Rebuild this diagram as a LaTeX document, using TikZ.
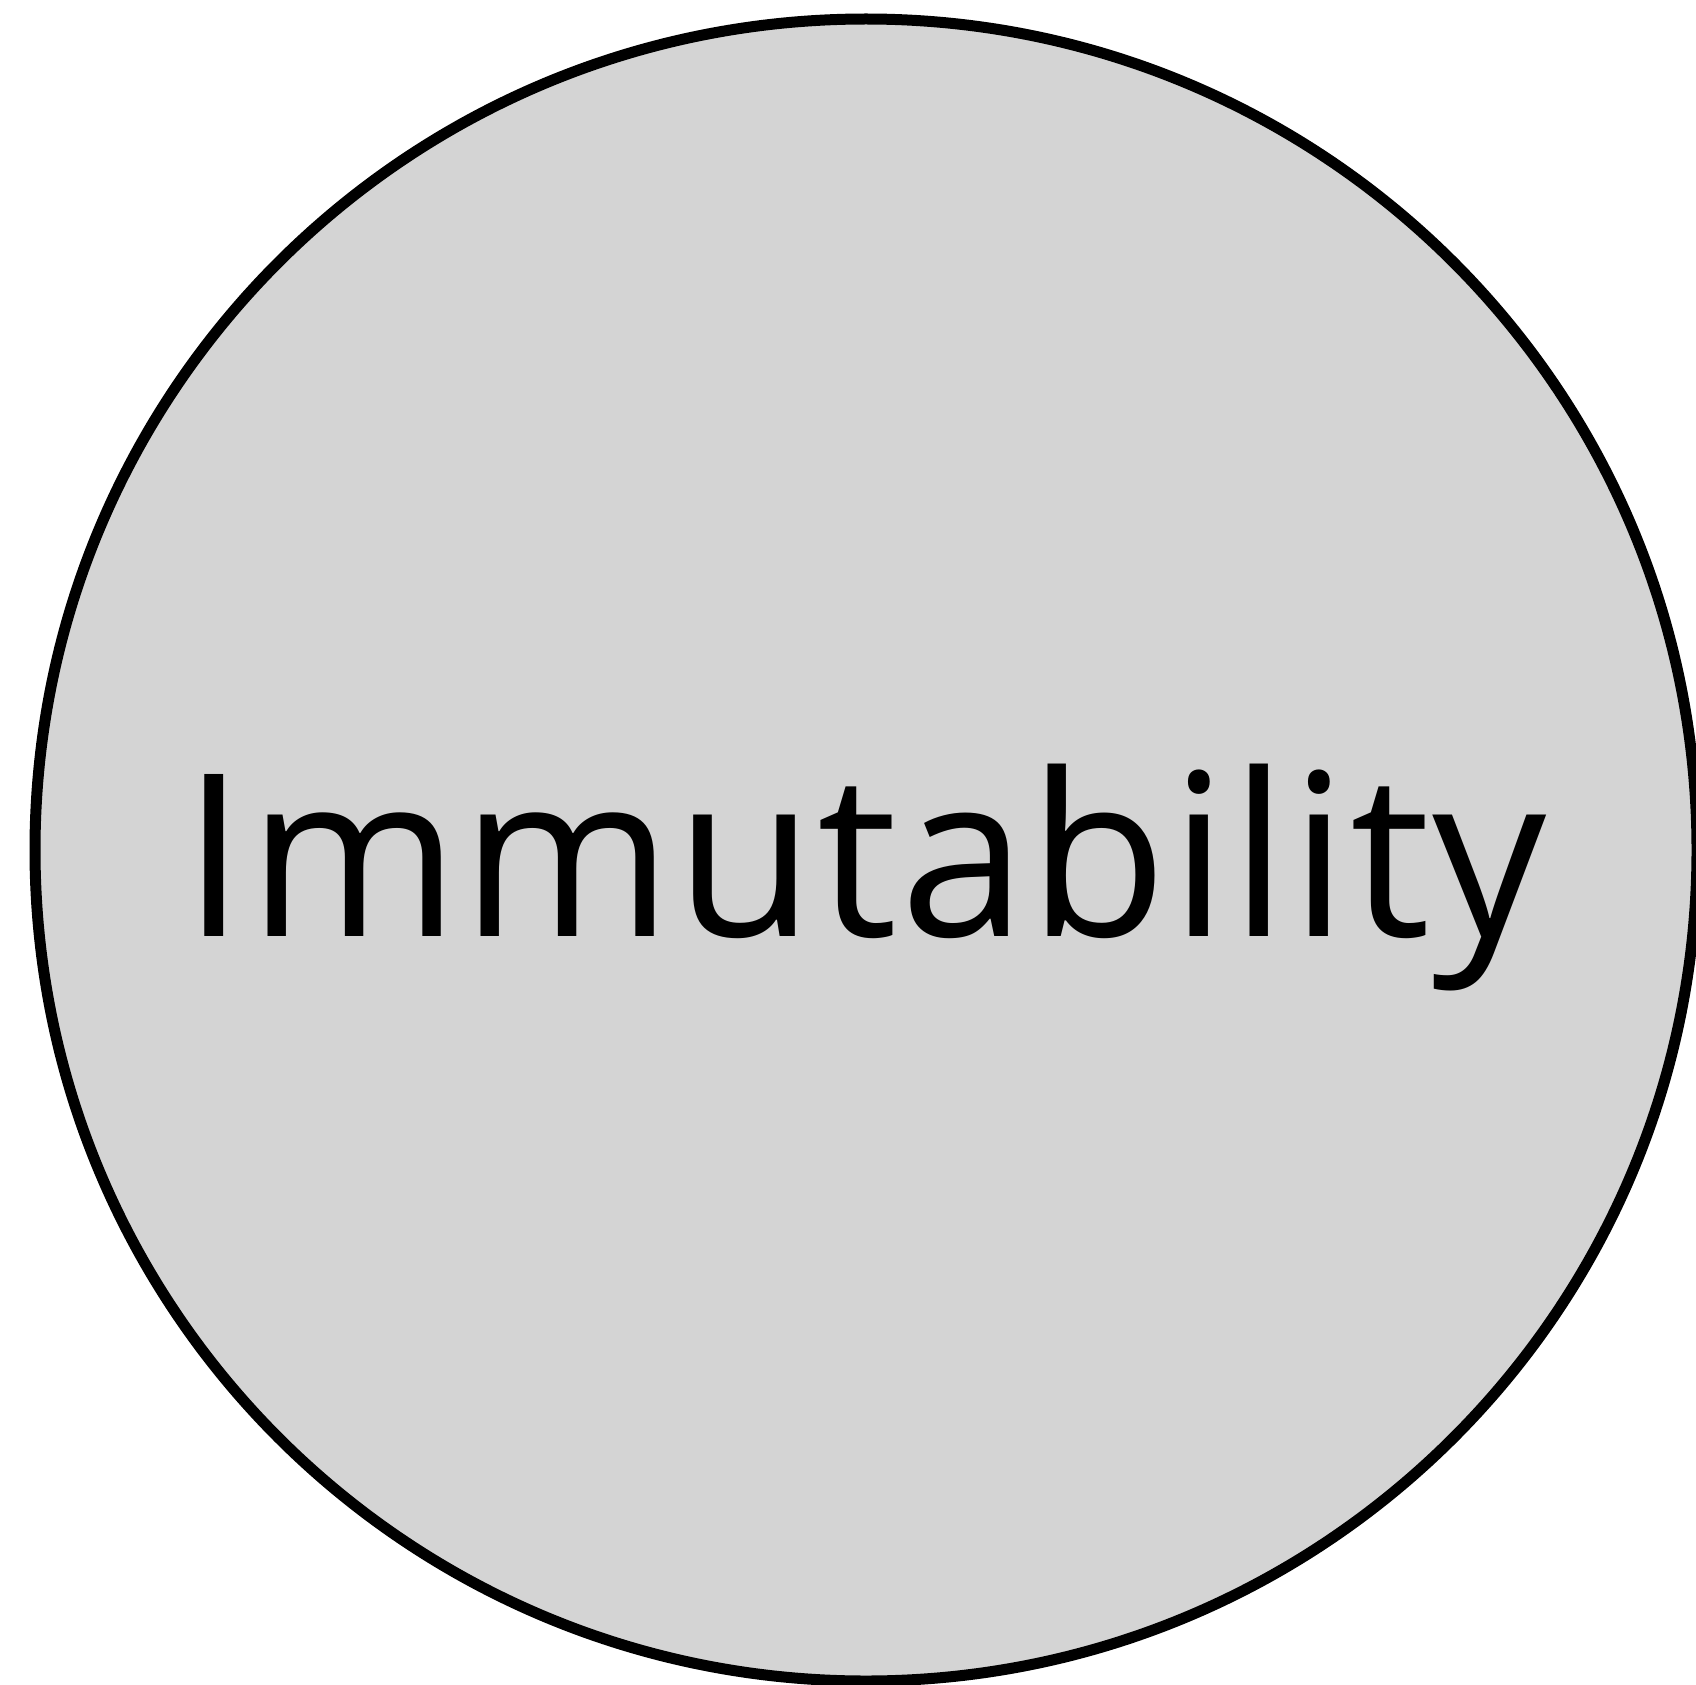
\documentclass[tikz,border=0pt]{standalone}
\usepackage{fontspec}
\newfontfamily\labelfont{Open Sans}[LetterSpace=1.1]
\definecolor{fillgray}{RGB}{212,212,212}
\tikzset{
  bigcircle/.style={circle, draw=black, fill=fillgray, line width=11pt, minimum size=1662pt, inner sep=0pt},
  bigtext/.style={font=\labelfont\fontsize{227}{270}\selectfont, anchor=base, inner sep=0pt}
}
\begin{document}
\begin{tikzpicture}[x=1pt,y=-1pt]
\useasboundingbox (0,0) rectangle (1696,1685);
\node[bigcircle] (c) at (866,850) {};
\node[bigtext] (t) at (865,936) {Immutability};
\end{tikzpicture}
\end{document}
